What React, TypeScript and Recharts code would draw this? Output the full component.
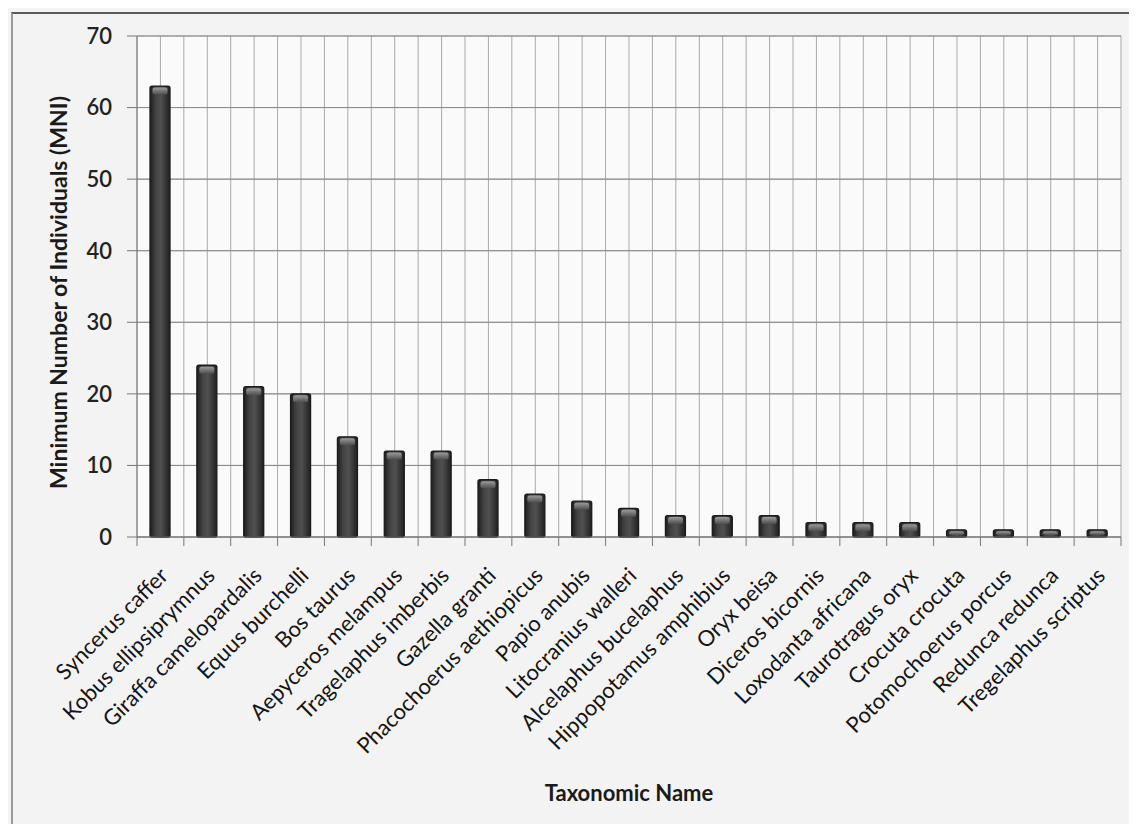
import React from "react";
import {
  BarChart,
  Bar,
  XAxis,
  YAxis,
  CartesianGrid,
  Label,
} from "recharts";

// Minimum number of individuals per taxon
const SPECIES = [
  "Syncerus caffer",
  "Kobus ellipsiprymnus",
  "Giraffa camelopardalis",
  "Equus burchelli",
  "Bos taurus",
  "Aepyceros melampus",
  "Tragelaphus imberbis",
  "Gazella granti",
  "Phacochoerus aethiopicus",
  "Papio anubis",
  "Litocranius walleri",
  "Alcelaphus bucelaphus",
  "Hippopotamus amphibius",
  "Oryx beisa",
  "Diceros bicornis",
  "Loxodanta africana",
  "Taurotragus oryx",
  "Crocuta crocuta",
  "Potomochoerus porcus",
  "Redunca redunca",
  "Tregelaphus scriptus",
];
const MNI = [63, 24, 21, 20, 14, 12, 12, 8, 6, 5, 4, 3, 3, 3, 2, 2, 2, 1, 1, 1, 1];
const Y_TICKS = [0, 10, 20, 30, 40, 50, 60, 70];

const data = SPECIES.map((name, i) => ({ name, mni: MNI[i] }));

const WIDTH = 1129;
const HEIGHT = 816;
const MARGIN = { top: 28, right: 16, left: 0, bottom: 87 };
const Y_AXIS_WIDTH = 129;
const X_AXIS_HEIGHT = 200;
const FONT = "Lato, Calibri, 'Open Sans', sans-serif";
const AXIS_COLOR = "#777";

const PLOT_WIDTH = WIDTH - MARGIN.left - MARGIN.right - Y_AXIS_WIDTH;
const HALF_BAND = PLOT_WIDTH / SPECIES.length / 2;

// tick marks sit on the category boundaries, labels slant up to the bar
function SpeciesTick(props: any) {
  const { x, y, payload, index, visibleTicksCount } = props;
  const half = payload.offset || HALF_BAND;
  const tx = x + 3;
  const ty = y + 34;
  return (
    <g>
      <line x1={x - half} x2={x - half} y1={y} y2={y + 9} stroke={AXIS_COLOR} />
      {index === visibleTicksCount - 1 && (
        <line x1={x + half} x2={x + half} y1={y} y2={y + 9} stroke={AXIS_COLOR} />
      )}
      <text
        x={tx}
        y={ty}
        transform={`rotate(-45 ${tx} ${ty})`}
        textAnchor="end"
        dominantBaseline="central"
        fontFamily={FONT}
        fontSize={22}
        fill="#151515"
      >
        {payload.value}
      </text>
    </g>
  );
}

function CylinderBar(props: any) {
  const { x, y, width, height } = props;
  if (!height || height <= 0) return null;
  const cap = Math.min(7, height / 2);
  return (
    <g>
      <rect
        x={x}
        y={y}
        width={width}
        height={height}
        rx={2}
        fill="url(#barBody)"
        stroke="#1b1b1b"
        strokeWidth={1.3}
      />
      <rect
        x={x + 2.5}
        y={y + 1.5}
        width={width - 5}
        height={cap}
        rx={2}
        fill="url(#barCap)"
      />
    </g>
  );
}

export default function App() {
  return (
    <div
      style={{
        position: "relative",
        width: WIDTH,
        height: HEIGHT,
        background: "#f3f3f3",
      }}
    >
      <div
        style={{
          position: "absolute",
          left: 3,
          top: 4,
          right: 0,
          bottom: 0,
          borderTop: "2px solid #5a5a5a",
          borderLeft: "2px solid #9a9a9a",
        }}
      />
      <div style={{ position: "absolute", left: 0, top: 0 }}>
        <BarChart width={WIDTH} height={HEIGHT} data={data} margin={MARGIN}>
          <defs>
            <linearGradient id="barBody" x1="0" y1="0" x2="1" y2="0">
              <stop offset="0%" stopColor="#1e1e1e" />
              <stop offset="30%" stopColor="#444" />
              <stop offset="55%" stopColor="#505050" />
              <stop offset="100%" stopColor="#202020" />
            </linearGradient>
            <linearGradient id="barCap" x1="0" y1="0" x2="0" y2="1">
              <stop offset="0%" stopColor="#9a9a9a" />
              <stop offset="100%" stopColor="#4d4d4d" />
            </linearGradient>
          </defs>
          <CartesianGrid
            fill="#fafafa"
            stroke="#a9a9a9"
            verticalCoordinatesGenerator={({ offset }: any) =>
              Array.from(
                { length: SPECIES.length * 2 + 1 },
                (_, i) => offset.left + (i * offset.width) / (SPECIES.length * 2)
              )
            }
          />
          <CartesianGrid vertical={false} stroke="#8a8a8a" />
          <XAxis
            dataKey="name"
            interval={0}
            height={X_AXIS_HEIGHT}
            tickLine={false}
            tickSize={0}
            tickMargin={0}
            axisLine={{ stroke: AXIS_COLOR }}
            tick={<SpeciesTick />}
          >
            <Label
              value="Taxonomic Name"
              position="bottom"
              offset={48}
              style={{
                fontFamily: FONT,
                fontSize: 22,
                fontWeight: 700,
                fill: "#1a1a1a",
              }}
            />
          </XAxis>
          <YAxis
            width={Y_AXIS_WIDTH}
            domain={[0, 70]}
            ticks={Y_TICKS}
            interval={0}
            tickSize={10}
            tickMargin={15}
            tickLine={{ stroke: AXIS_COLOR }}
            axisLine={{ stroke: AXIS_COLOR }}
            tick={{ fontFamily: FONT, fontSize: 22, fill: "#222", fontWeight: 600 }}
            label={({ viewBox }: any) => {
              const cx = 50;
              const cy = viewBox.y + viewBox.height / 2 + 6;
              return (
                <text
                  x={cx}
                  y={cy}
                  transform={`rotate(-90 ${cx} ${cy})`}
                  textAnchor="middle"
                  dominantBaseline="central"
                  fontFamily={FONT}
                  fontSize={23}
                  fontWeight={700}
                  fill="#1a1a1a"
                >
                  Minimum Number of Individuals (MNI)
                </text>
              );
            }}
          />
          <Bar
            dataKey="mni"
            barSize={20}
            shape={<CylinderBar />}
            isAnimationActive={false}
          />
        </BarChart>
      </div>
    </div>
  );
}
